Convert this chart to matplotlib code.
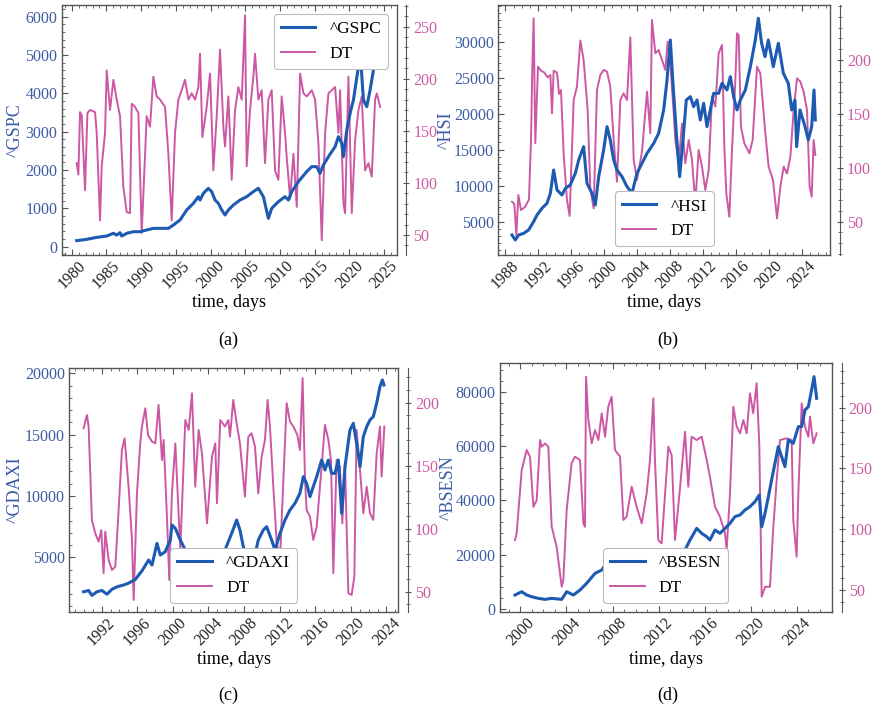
import numpy as np
import matplotlib
matplotlib.use("Agg")
import matplotlib.pyplot as plt
from matplotlib.ticker import MultipleLocator, FixedLocator

plt.rcParams['font.family'] = ['Liberation Serif', 'DejaVu Serif']
plt.rcParams['mathtext.fontset'] = 'stix'

# ---------------- data (decimal year, value) ----------------
gspc = [(1980.72,157),(1982.16,191),(1983.60,243),(1985.04,278),(1986.00,348),(1986.48,304),
        (1986.96,365),(1987.20,278),(1987.92,348),(1988.88,391),(1989.84,391),(1990.80,435),
        (1991.76,478),(1992.72,478),(1993.92,478),(1994.64,565),(1995.60,696),(1996.56,957),
        (1997.52,1130),(1998.24,1304),(1998.48,1217),(1998.96,1391),(1999.68,1522),(2000.16,1435),
        (2000.64,1217),(2001.12,1130),(2001.60,957),(2002.08,826),(2002.56,957),(2003.28,1087),
        (2004.24,1217),(2005.20,1304),(2006.16,1435),(2006.88,1522),(2007.60,1304),(2008.32,739),
        (2008.80,1000),(2009.76,1174),(2010.72,1304),(2011.20,1217),(2011.68,1435),(2012.64,1696),
        (2013.84,1957),(2014.56,2087),(2015.28,2087),(2015.76,1913),(2016.24,2130),(2016.97,2348),
        (2017.93,2609),(2018.41,2870),(2018.89,2696),(2019.13,2348),(2019.61,3043),(2020.09,3478),
        (2020.57,3826),(2021.29,4696),(2021.67,4739),(2022.01,3826),(2022.49,3652),(2022.97,4087),
        (2023.45,4609),(2023.69,4783),(2024.20,5300),(2024.70,5800),(2025.00,6000)]
gspc_dt = [(1980.72,119),(1980.96,108),(1981.20,168),(1981.44,165),(1981.92,93),(1982.26,167),
           (1982.64,170),(1983.36,168),(1983.60,148),(1984.08,64),(1984.32,116),(1984.80,148),
           (1985.04,208),(1985.52,170),(1986.00,199),(1986.48,180),(1986.96,164),(1987.44,96),
           (1987.92,72),(1988.40,71),(1988.64,176),(1989.12,173),(1989.60,167),(1990.08,52),
           (1990.80,164),(1991.28,154),(1991.76,202),(1992.24,183),(1992.72,180),(1993.44,173),
           (1993.92,128),(1994.40,64),(1994.88,148),(1995.36,180),(1995.84,189),(1996.32,199),
           (1996.80,180),(1997.28,186),(1997.76,180),(1998.24,192),(1998.48,224),(1998.82,144),
           (1999.44,173),(1999.92,205),(2000.40,112),(2000.88,164),(2001.36,228),(2001.84,154),
           (2002.08,135),(2002.56,183),(2003.04,103),(2003.52,170),(2004.00,192),(2004.48,180),
           (2004.96,261),(2005.20,116),(2005.68,170),(2006.16,202),(2006.40,224),(2006.88,180),
           (2007.36,189),(2007.84,119),(2008.32,180),(2008.80,189),(2009.28,112),(2009.76,103),
           (2010.24,183),(2010.72,148),(2010.96,125),(2011.45,85),(2011.93,128),(2012.41,77),
           (2012.89,205),(2013.37,186),(2013.85,183),(2014.57,189),(2015.05,180),(2015.53,138),
           (2016.01,45),(2016.49,148),(2016.97,186),(2017.45,189),(2017.93,192),(2018.41,148),
           (2018.65,189),(2019.13,80),(2019.37,71),(2019.85,202),(2020.33,71),(2020.81,141),
           (2021.29,170),(2021.77,183),(2022.25,112),(2022.73,119),(2023.21,106),(2023.69,180),
           (2023.93,186),(2024.41,173)]

hsi = [(1988.81,3146),(1989.21,2451),(1989.62,3146),(1990.23,3378),(1990.83,3841),(1991.44,5000),
       (1991.85,5924),(1992.45,6850),(1993.06,7545),(1993.47,8934),(1993.87,12175),(1994.28,9396),
       (1994.88,8702),(1995.29,9628),(1995.89,10091),(1996.50,11712),(1996.91,13564),(1997.51,15416),
       (1997.92,10323),(1998.53,8934),(1998.93,7313),(1999.34,11249),(1999.94,14953),(2000.35,18194),
       (2000.75,16342),(2001.16,13564),(2001.56,12175),(2002.17,11249),(2002.78,9860),(2003.38,8934),
       (2003.99,11712),(2004.60,13101),(2005.21,14490),(2006.02,15878),(2006.62,17268),(2007.23,20509),
       (2007.64,24676),(2008.04,30231),(2008.36,24213),(2008.77,17268),(2009.17,11249),(2009.58,16342),
       (2009.98,21898),(2010.47,22360),(2010.87,20972),(2011.28,21898),(2011.68,19120),(2012.09,21434),
       (2012.49,18194),(2012.90,20509),(2013.30,22824),(2013.91,22824),(2014.32,24213),(2014.92,23287),
       (2015.33,25139),(2015.73,22360),(2016.14,20509),(2016.54,21898),(2017.15,23287),(2017.76,26528),
       (2018.36,30231),(2018.73,33241),(2019.13,29769),(2019.54,27917),(2019.94,30231),(2020.55,26528),
       (2021.16,29769),(2021.77,25602),(2022.37,24213),(2022.78,20509),(2023.18,21898),(2023.38,15416),
       (2023.79,20509),(2024.40,18194),(2024.80,16342),(2025.21,18194),(2025.49,23287),(2025.65,19120)]
hsi_dt = [(1988.81,68.6),(1989.09,66.4),(1989.34,37.6),(1989.58,74.7),(1989.90,60.8),(1990.43,63.9),
          (1990.87,70.7),(1991.12,125.8),(1991.28,193.8),(1991.44,238.7),(1991.64,122.7),(1991.97,193.8),
          (1992.33,190.1),(1992.74,188.3),(1993.14,183.9),(1993.47,186.1),(1993.67,150.5),(1993.87,190.1),
          (1994.28,188.3),(1994.52,168.5),(1994.76,172.2),(1995.09,111.9),(1995.49,70.1),(1995.81,55.3),
          (1996.30,162.9),(1996.70,175.3),(1997.11,218.0),(1997.51,200.0),(1998.00,153.6),(1998.32,80.9),
          (1998.73,62.4),(1999.13,172.2),(1999.54,186.1),(1999.94,190.7),(2000.35,189.2),(2000.75,175.3),
          (2001.16,125.8),(2001.56,87.1),(2001.97,162.9),(2002.37,169.1),(2002.78,162.9),(2003.18,221.0),
          (2003.59,107.2),(2003.99,88.7),(2004.60,115.0),(2005.21,170.6),(2005.61,132.0),(2005.81,237.1),
          (2006.22,206.2),(2006.62,209.3),(2007.03,200.0),(2007.43,190.7),(2007.72,217.0),(2008.04,196.9),
          (2008.45,150.5),(2008.65,125.8),(2009.05,104.1),(2009.46,141.2),(2009.86,104.1),(2010.27,125.8),
          (2010.67,107.2),(2011.08,67.0),(2011.48,116.5),(2011.89,101.0),(2012.29,79.4),(2012.70,97.9),
          (2013.10,166.0),(2013.51,156.7),(2013.91,206.2),(2014.32,213.9),(2014.60,119.6),(2014.84,76.3),
          (2015.21,54.6),(2015.53,116.5),(2015.94,181.5),(2016.14,224.8),(2016.34,223.2),(2016.62,138.2),
          (2017.03,122.7),(2017.64,113.4),(2018.04,125.8),(2018.57,193.8),(2018.97,187.6),(2019.58,132.0),
          (2019.98,101.0),(2020.51,88.7),(2021.00,53.1),(2021.40,82.5),(2021.81,101.0),(2022.21,94.8),
          (2022.62,110.3),(2023.02,153.6),(2023.43,183.0),(2023.83,179.9),(2024.23,170.6),(2024.64,153.6),
          (2024.96,82.5),(2025.21,73.2),(2025.45,125.8),(2025.65,111.9)]

gdaxi = [(1989.98,2200),(1990.54,2300),(1990.91,1900),(1991.48,2200),(1992.04,2300),(1992.60,2000),
         (1993.16,2400),(1993.72,2600),(1994.47,2750),(1995.03,2900),(1995.78,3200),(1996.53,3900),
         (1997.28,4785),(1997.66,4377),(1998.22,6143),(1998.59,5192),(1999.15,5464),(1999.72,6415),
         (1999.90,7638),(2000.28,7366),(2000.84,6415),(2001.40,5600),(2002.11,4106),(2002.86,2747),
         (2003.42,2340),(2004.17,3019),(2004.92,4106),(2005.52,5328),(2005.86,5600),(2006.61,6958),
         (2007.17,8045),(2007.54,7230),(2007.92,5872),(2008.37,4649),(2008.74,3834),(2009.23,5192),
         (2009.60,6415),(2010.16,7230),(2010.54,7502),(2011.10,6415),(2011.48,5600),(2012.04,6958),
         (2012.60,8045),(2013.16,8860),(2013.72,9404),(2014.28,10219),(2014.66,11577),(2015.03,11034),
         (2015.41,9947),(2015.78,10762),(2016.16,11577),(2016.72,12936),(2017.09,12121),(2017.47,12936),
         (2017.84,11849),(2018.22,11849),(2018.59,12936),(2018.97,8589),(2019.34,12392),(2019.90,15381),
         (2020.28,15925),(2020.65,14294),(2021.03,12392),(2021.40,14838),(2021.78,15653),(2022.15,16196),
         (2022.52,16468),(2022.90,17555),(2023.27,18913),(2023.54,19457),(2023.72,19049)]
gdaxi_dt = [(1989.98,179.6),(1990.35,190.2),(1990.54,181.0),(1990.91,106.9),(1991.29,96.3),(1991.66,89.7),
            (1991.96,98.9),(1992.22,64.6),(1992.41,97.6),(1992.79,75.1),(1993.16,67.2),(1993.54,69.8),
            (1993.91,114.8),(1994.28,162.4),(1994.58,171.7),(1995.03,133.3),(1995.41,91.0),(1995.60,43.4),
            (1995.97,128.0),(1996.34,167.7),(1996.53,181.0),(1996.91,195.5),(1997.21,174.3),(1997.66,169.0),
            (1998.03,167.7),(1998.40,198.1),(1998.78,154.5),(1998.97,170.4),(1999.34,109.5),(1999.60,59.3),
            (1999.90,128.0),(2000.28,167.7),(2000.84,83.1),(2001.40,186.2),(2001.78,178.3),(2002.15,207.4),
            (2002.52,133.3),(2002.90,178.3),(2003.27,159.8),(2003.84,104.2),(2004.40,157.1),(2004.77,167.7),
            (2004.96,120.1),(2005.33,186.2),(2005.86,181.0),(2006.23,186.2),(2006.42,173.0),(2006.79,202.1),
            (2007.17,183.6),(2007.54,167.7),(2008.10,125.4),(2008.48,173.0),(2008.85,175.7),(2009.23,165.1),
            (2009.60,128.0),(2009.98,157.1),(2010.35,170.4),(2010.65,202.1),(2010.91,181.0),(2011.29,133.3),
            (2011.66,89.7),(2012.04,75.1),(2012.41,137.3),(2012.79,199.5),(2013.16,184.9),(2013.54,181.0),
            (2013.99,174.3),(2014.28,162.4),(2014.58,219.3),(2014.85,138.6),(2015.03,114.8),(2015.41,109.5),
            (2015.78,91.0),(2016.16,101.6),(2016.53,133.3),(2017.09,182.3),(2017.47,170.4),(2017.77,154.5),
            (2018.03,64.6),(2018.40,154.5),(2018.78,149.2),(2019.04,104.2),(2019.34,151.9),(2019.72,48.7),
            (2020.09,47.4),(2020.39,61.9),(2020.65,178.3),(2021.03,146.6),(2021.40,112.2),(2021.78,133.3),
            (2022.15,112.2),(2022.52,106.9),(2022.90,159.8),(2023.27,181.0),(2023.46,141.3),(2023.76,181.0)]

bsesn = [(1999.54,5153),(2000.12,6380),(2000.55,5153),(2000.98,4540),(2001.56,3926),(2002.14,3558),
         (2002.72,3926),(2003.59,3558),(2004.02,6380),(2004.60,5153),(2005.18,6994),(2005.75,9448),
         (2006.48,13129),(2007.06,14356),(2007.66,18037),(2008.24,21350),(2008.68,14969),(2009.25,7976),
         (2009.83,14969),(2010.41,19264),(2011.28,18405),(2012.00,15583),(2013.01,19264),(2013.59,19877),
         (2014.14,20491),(2014.72,25399),(2015.30,29693),(2015.73,27853),(2016.17,26626),(2016.45,25399),
         (2016.89,29080),(2017.32,27853),(2017.76,29693),(2018.19,31534),(2018.62,33988),(2019.06,34601),
         (2019.49,36442),(2019.92,37669),(2020.36,39509),(2020.73,41963),(2020.94,30307),(2021.23,35215),
         (2021.52,41350),(2021.80,47485),(2022.09,53620),(2022.38,59755),(2022.67,56074),(2022.96,52393),
         (2023.25,62209),(2023.68,60982),(2024.12,67117),(2024.41,67117),(2024.70,73252),(2024.99,74479),
         (2025.27,80614),(2025.48,85522),(2025.71,77546)]
bsesn_dt = [(1999.54,91.1),(1999.68,96.6),(2000.12,148.7),(2000.55,165.2),(2000.84,159.7),(2001.13,118.5),
            (2001.42,124.0),(2001.71,173.4),(2001.85,167.9),(2002.14,170.6),(2002.43,167.9),(2002.72,102.1),
            (2003.15,85.6),(2003.59,52.7),(2003.73,58.2),(2004.02,115.8),(2004.45,154.2),(2004.74,159.7),
            (2005.18,156.9),(2005.47,104.8),(2005.61,102.1),(2005.70,225.5),(2005.90,189.8),(2006.19,170.6),
            (2006.48,181.6),(2006.77,173.4),(2007.06,195.3),(2007.35,176.1),(2007.63,200.8),(2007.92,209.0),
            (2008.21,165.2),(2008.65,159.7),(2008.94,107.6),(2009.22,110.3),(2009.66,135.0),(2010.09,118.5),
            (2010.53,104.8),(2010.96,129.5),(2011.25,156.9),(2011.54,207.7),(2011.68,156.9),(2011.97,91.1),
            (2012.26,88.4),(2012.84,167.9),(2013.13,161.0),(2013.42,91.1),(2013.85,133.6),(2014.29,180.2),
            (2014.57,135.0),(2014.86,176.1),(2015.30,173.4),(2015.73,176.1),(2016.17,156.9),(2016.45,143.2),
            (2016.89,118.5),(2017.32,110.3),(2017.76,96.6),(2017.90,82.9),(2018.19,129.5),(2018.48,200.8),
            (2018.77,184.4),(2019.06,178.9),(2019.35,189.8),(2019.64,178.9),(2019.92,211.8),(2020.21,195.3),
            (2020.50,220.0),(2020.73,170.6),(2020.94,44.5),(2021.23,52.7),(2021.66,52.7),(2021.95,102.1),
            (2022.24,140.5),(2022.53,173.4),(2023.11,174.8),(2023.54,173.4),(2023.68,107.6),(2023.97,77.4),
            (2024.12,129.5),(2024.41,203.5),(2024.70,184.4),(2024.99,176.1),(2025.13,192.6),(2025.42,170.6),
            (2025.71,178.9)]

# ---------------- style ----------------
BLUE = '#1d5bb3'
PINK = '#cc58a4'
BLUE_TXT = '#3c5ca4'
PINK_TXT = '#cf5aa2'
W, H = 877, 709

fig = plt.figure(figsize=(W / 100, H / 100), dpi=100)


def rect(l, t, r, b):
    return [l / W, 1 - b / H, (r - l) / W, (b - t) / H]


def panel(box, idx, dt, name, xlim, xticks, ylim_l, yticks_l, yminor_l,
          ylim_r, yticks_r, legend_loc, caption, cap_xy, ylab_x):
    ax = fig.add_axes(rect(*box))
    tw = ax.twinx()
    ax.set_zorder(tw.get_zorder() + 1)
    ax.patch.set_visible(False)

    xi, yi = np.array(idx, dtype=float).T
    xd, yd = np.array(dt, dtype=float).T
    l1, = ax.plot(xi, yi, color=BLUE, lw=2.2, label=name, solid_joinstyle='round')
    l2, = tw.plot(xd, yd, color=PINK, lw=1.4, label='DT', solid_joinstyle='round')

    ax.set_xlim(*xlim)
    ax.set_ylim(*ylim_l)
    tw.set_ylim(*ylim_r)
    ax.xaxis.set_major_locator(FixedLocator(xticks))
    ax.xaxis.set_minor_locator(MultipleLocator(1))
    ax.yaxis.set_major_locator(FixedLocator(yticks_l))
    ax.yaxis.set_minor_locator(MultipleLocator(yminor_l))
    tw.yaxis.set_major_locator(FixedLocator(yticks_r))
    tw.yaxis.set_minor_locator(MultipleLocator(10))
    ax.set_xticklabels([str(t) for t in xticks], rotation=45)

    for s in ax.spines.values():
        s.set_color('#555555')
        s.set_linewidth(1.0)
    for k in ('left', 'top', 'bottom'):
        tw.spines[k].set_visible(False)
    tw.spines['right'].set_position(('outward', 7))
    tw.spines['right'].set_color('#555555')

    ax.tick_params(axis='both', which='both', direction='in', top=True,
                   right=False, colors='#555555')
    ax.tick_params(axis='both', which='major', length=4, width=0.8, labelsize=11.5)
    ax.tick_params(axis='both', which='minor', length=2, width=0.6)
    ax.tick_params(axis='y', labelcolor=BLUE_TXT, pad=3)
    ax.tick_params(axis='x', labelcolor='#222222', pad=2)
    tw.tick_params(axis='y', which='both', direction='inout', colors='#555555',
                   labelcolor=PINK_TXT, labelsize=11.5, pad=2.5)
    tw.tick_params(axis='y', which='major', length=5, width=0.8)
    tw.tick_params(axis='y', which='minor', length=3, width=0.6)

    ax.set_ylabel(name, color=BLUE_TXT, fontsize=13)
    ax.yaxis.set_label_coords((ylab_x - box[0]) / (box[2] - box[0]), 0.5)
    ax.set_xlabel('time, days', fontsize=13, labelpad=2)

    leg = ax.legend([l1, l2], [name, 'DT'], loc=legend_loc, fontsize=12.5,
                    framealpha=1.0, edgecolor='#bbbbbb', handlelength=2.0,
                    borderaxespad=0.5)
    leg.get_frame().set_linewidth(0.8)
    fig.text(cap_xy[0] / W, 1 - cap_xy[1] / H, caption, ha='center', va='center',
             fontsize=13)


panel((61.7, 5, 396.7, 255), gspc, gspc_dt, '^GSPC', (1978.56, 2026.8),
      list(range(1980, 2026, 5)), (-217, 6304), list(range(0, 6001, 1000)), 200,
      (30.8, 270.8), [50, 100, 150, 200, 250], 'upper right', '(a)', (228, 340), 24)
panel((498, 5, 830.3, 255), hsi, hsi_dt, '^HSI', (1987.11, 2027.47),
      list(range(1988, 2025, 4)), (363, 35093), list(range(5000, 30001, 5000)), 1000,
      (19.1, 251), [50, 100, 150, 200], 'lower center', '(b)', (668, 340), 455)
panel((69.3, 368.3, 398.3, 611.7), gdaxi, gdaxi_dt, '^GDAXI', (1988.37, 2025.33),
      list(range(1992, 2025, 4)), (574, 20408), list(range(5000, 20001, 5000)), 1000,
      (34.1, 227.2), [50, 100, 150, 200], 'lower center', '(c)', (228, 695), 24)
panel((499.7, 363.3, 832, 611.7), bsesn, bsesn_dt, '^BSESN', (1998.21, 2027.04),
      list(range(2000, 2025, 4)), (-982, 90430), list(range(0, 80001, 20000)), 4000,
      (32.2, 236.5), [50, 100, 150, 200], 'lower center', '(d)', (668, 695), 457)

fig.savefig('out.png', dpi=100)
